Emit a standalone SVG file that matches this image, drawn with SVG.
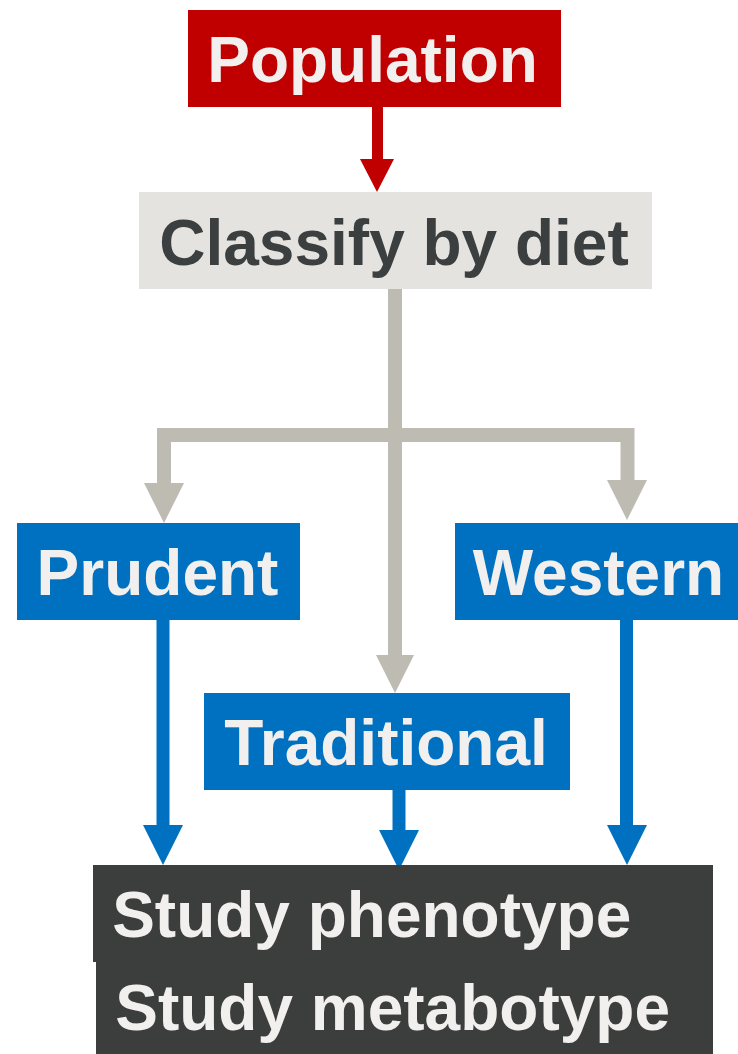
<svg xmlns="http://www.w3.org/2000/svg" width="738" height="1054" viewBox="0 0 738 1054">
  <style>
    .lbl { font-family: "Liberation Sans", Arial, sans-serif; font-weight: bold; font-size: 64px; text-anchor: middle; fill: #f2f0ef; }
    .dark { fill: #3c3f3f; }
    .gray-line { fill: none; stroke: #bebbb3; stroke-width: 14; }
    .blue-line { fill: none; stroke: #0070c0; stroke-width: 13; }
  </style>
  <rect width="738" height="1054" fill="#ffffff"/>

  <!-- connectors -->
  <g id="connectors">
    <!-- Population -> Classify -->
    <rect x="372" y="107" width="11" height="54" fill="#c00000"/>
    <polygon points="360,159 394,159 377,192" fill="#c00000"/>
    <!-- Classify -> three diet groups -->
    <path class="gray-line" d="M164,484 V435 H627.5 V482"/>
    <path class="gray-line" d="M395,289 V657"/>
    <polygon points="144,483 184,483 164,523" fill="#bebbb3"/>
    <polygon points="607,480 647,480 627,520" fill="#bebbb3"/>
    <polygon points="376,655 414,655 395,693" fill="#bebbb3"/>
    <!-- diet groups -> study outcome -->
    <path class="blue-line" d="M163,620 V827"/>
    <path class="blue-line" d="M399,790 V832"/>
    <path class="blue-line" d="M626.5,620 V827"/>
    <polygon points="143,825 183,825 163,865" fill="#0070c0"/>
    <polygon points="379,830 419,830 399,870" fill="#0070c0"/>
    <polygon points="607,825 647,825 627,865" fill="#0070c0"/>
  </g>

  <g id="population">
    <rect x="188" y="10" width="373" height="97" fill="#c00000"/>
    <text class="lbl" x="372.5" y="82">Population</text>
  </g>

  <g id="classify">
    <rect x="139" y="192" width="513" height="97" fill="#e4e3e0"/>
    <text class="lbl dark" x="394" y="265">Classify by diet</text>
  </g>

  <g id="prudent">
    <rect x="17" y="523" width="283" height="97" fill="#0070c0"/>
    <text class="lbl" x="157.5" y="595">Prudent</text>
  </g>

  <g id="western">
    <rect x="455" y="523" width="283" height="97" fill="#0070c0"/>
    <text class="lbl" x="598.5" y="595">Western</text>
  </g>

  <g id="traditional">
    <rect x="204" y="693" width="366" height="97" fill="#0070c0"/>
    <text class="lbl" x="386" y="765">Traditional</text>
  </g>

  <g id="outcome">
    <rect x="93" y="865" width="620" height="97" fill="#3c3d3d"/>
    <rect x="96" y="961" width="617" height="93" fill="#3c3d3d"/>
    <text class="lbl" x="371.7" y="937">Study phenotype</text>
    <text class="lbl" x="392.6" y="1030">Study metabotype</text>
  </g>
</svg>
